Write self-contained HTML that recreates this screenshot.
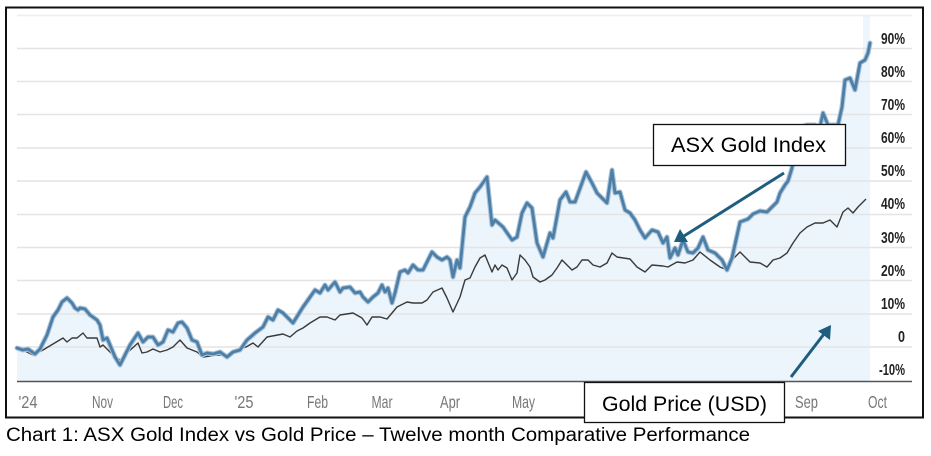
<!DOCTYPE html>
<html><head><meta charset="utf-8">
<style>
html,body{margin:0;padding:0;background:#fff;}
svg{display:block;}
</style></head>
<body>
<svg width="931" height="456" viewBox="0 0 931 456" xmlns="http://www.w3.org/2000/svg">
<rect x="0" y="0" width="931" height="456" fill="#fff"/>
<!-- frame -->
<rect x="6" y="7.5" width="917" height="410" fill="#fff" stroke="#111" stroke-width="2"/>
<!-- highlight band -->
<rect x="863" y="16" width="7" height="365" fill="#eef5fc"/>
<!-- area fill -->
<polygon fill="#ecf4fc" points="17,381 17,348 23,350 28,349 35,354 40,349 47,335 53,317 58,310 62,302 67,298 72,303 75,308 78,310 80,308 85,309 90,315 97,320 100,325 103,340 107,338 110,345 115,357 120,365 125,355 130,345 138,333 143,342 148,337 153,337 158,345 163,342 168,330 173,332 178,323 182,322 187,328 192,340 197,342 202,355 207,353 213,354 220,352 227,357 233,352 240,350 247,340 255,333 263,327 268,317 273,320 278,310 283,313 293,323 298,315 303,307 308,300 315,290 320,293 325,285 328,290 335,282 340,292 343,288 350,287 355,293 360,292 363,297 368,302 373,297 378,293 382,285 385,292 388,288 392,303 395,293 400,272 405,270 408,273 413,265 418,270 423,270 428,260 432,252 437,257 442,260 447,257 450,260 453,277 457,260 460,268 465,217 470,207 475,193 480,187 487,177 492,225 495,220 503,227 512,240 517,237 522,213 527,203 532,208 537,243 543,257 550,233 553,238 560,200 566,192 570,202 575,202 586,172 592,183 597,193 607,203 612,170 615,193 620,192 625,210 630,213 635,220 640,230 645,238 652,230 658,232 663,243 667,237 670,258 675,248 678,255 683,240 688,252 693,253 698,248 703,237 708,250 715,253 722,260 727,270 732,258 740,222 748,219 753,214 760,211 767,212 772,207 777,202 780,193 785,185 788,181 792,168 795,145 800,127 807,125 815,125 820,127 823,113 828,125 833,125 838,125 842,107 845,80 850,78 855,90 860,63 865,60 868,53 870,43 870,381"/>
<!-- gridlines -->
<g stroke="#e4e4e4" stroke-width="1.5">
<line x1="17" y1="15.5" x2="912" y2="15.5" stroke="#eeeeee"/>
<line x1="17" y1="48.5" x2="912" y2="48.5"/>
<line x1="17" y1="81.5" x2="912" y2="81.5"/>
<line x1="17" y1="114.5" x2="912" y2="114.5"/>
<line x1="17" y1="148" x2="912" y2="148"/>
<line x1="17" y1="181" x2="912" y2="181"/>
<line x1="17" y1="214.5" x2="912" y2="214.5"/>
<line x1="17" y1="247.5" x2="912" y2="247.5"/>
<line x1="17" y1="280.5" x2="912" y2="280.5"/>
<line x1="17" y1="314" x2="912" y2="314"/>
<line x1="17" y1="347" x2="912" y2="347"/>
</g>
<line x1="17" y1="381.5" x2="912" y2="381.5" stroke="#555" stroke-width="1.6"/>
<!-- gold price line -->
<polyline fill="none" stroke="#3a3a3a" stroke-width="1.4" stroke-linejoin="round" points="17,348 25,351 33,355 43,350 53,344 63,338 67,342 72,338 77,338 83,333 87,338 97,338 100,347 103,345 108,350 113,355 120,360 127,353 138,343 142,353 147,352 153,349 160,352 167,350 173,347 180,340 187,348 197,352 203,357 217,355 227,355 237,350 246,347 253,343 258,347 267,337 283,334 290,337 297,331 303,328 310,323 320,317 327,317 335,320 340,315 353,313 362,318 367,325 372,317 380,317 387,319 397,307 407,302 413,303 422,303 427,300 433,292 442,288 447,298 453,312 460,297 465,280 470,278 475,267 480,258 485,255 492,272 495,265 498,270 502,265 507,268 512,280 517,273 520,255 525,260 530,267 533,277 540,282 545,280 552,275 557,268 562,260 567,265 572,270 577,267 582,260 588,260 593,265 600,267 607,263 612,253 617,257 630,259 637,267 645,272 652,265 663,266 668,267 677,262 685,263 693,260 700,252 710,260 720,267 727,270 732,260 740,252 745,257 750,262 760,263 767,267 773,260 780,258 787,253 793,243 800,233 807,227 815,223 823,223 830,220 837,227 843,212 848,208 853,213 858,207 866,199"/>
<!-- ASX line -->
<g fill="none" stroke-linejoin="round" stroke-linecap="round">
<polyline stroke="#a8c3da" stroke-width="5" points="17,348 23,350 28,349 35,354 40,349 47,335 53,317 58,310 62,302 67,298 72,303 75,308 78,310 80,308 85,309 90,315 97,320 100,325 103,340 107,338 110,345 115,357 120,365 125,355 130,345 138,333 143,342 148,337 153,337 158,345 163,342 168,330 173,332 178,323 182,322 187,328 192,340 197,342 202,355 207,353 213,354 220,352 227,357 233,352 240,350 247,340 255,333 263,327 268,317 273,320 278,310 283,313 293,323 298,315 303,307 308,300 315,290 320,293 325,285 328,290 335,282 340,292 343,288 350,287 355,293 360,292 363,297 368,302 373,297 378,293 382,285 385,292 388,288 392,303 395,293 400,272 405,270 408,273 413,265 418,270 423,270 428,260 432,252 437,257 442,260 447,257 450,260 453,277 457,260 460,268 465,217 470,207 475,193 480,187 487,177 492,225 495,220 503,227 512,240 517,237 522,213 527,203 532,208 537,243 543,257 550,233 553,238 560,200 566,192 570,202 575,202 586,172 592,183 597,193 607,203 612,170 615,193 620,192 625,210 630,213 635,220 640,230 645,238 652,230 658,232 663,243 667,237 670,258 675,248 678,255 683,240 688,252 693,253 698,248 703,237 708,250 715,253 722,260 727,270 732,258 740,222 748,219 753,214 760,211 767,212 772,207 777,202 780,193 785,185 788,181 792,168 795,145 800,127 807,125 815,125 820,127 823,113 828,125 833,125 838,125 842,107 845,80 850,78 855,90 860,63 865,60 868,53 870,43"/>
<polyline stroke="#4d7ea6" stroke-width="2.8" points="17,348 23,350 28,349 35,354 40,349 47,335 53,317 58,310 62,302 67,298 72,303 75,308 78,310 80,308 85,309 90,315 97,320 100,325 103,340 107,338 110,345 115,357 120,365 125,355 130,345 138,333 143,342 148,337 153,337 158,345 163,342 168,330 173,332 178,323 182,322 187,328 192,340 197,342 202,355 207,353 213,354 220,352 227,357 233,352 240,350 247,340 255,333 263,327 268,317 273,320 278,310 283,313 293,323 298,315 303,307 308,300 315,290 320,293 325,285 328,290 335,282 340,292 343,288 350,287 355,293 360,292 363,297 368,302 373,297 378,293 382,285 385,292 388,288 392,303 395,293 400,272 405,270 408,273 413,265 418,270 423,270 428,260 432,252 437,257 442,260 447,257 450,260 453,277 457,260 460,268 465,217 470,207 475,193 480,187 487,177 492,225 495,220 503,227 512,240 517,237 522,213 527,203 532,208 537,243 543,257 550,233 553,238 560,200 566,192 570,202 575,202 586,172 592,183 597,193 607,203 612,170 615,193 620,192 625,210 630,213 635,220 640,230 645,238 652,230 658,232 663,243 667,237 670,258 675,248 678,255 683,240 688,252 693,253 698,248 703,237 708,250 715,253 722,260 727,270 732,258 740,222 748,219 753,214 760,211 767,212 772,207 777,202 780,193 785,185 788,181 792,168 795,145 800,127 807,125 815,125 820,127 823,113 828,125 833,125 838,125 842,107 845,80 850,78 855,90 860,63 865,60 868,53 870,43"/>
</g>
<!-- y labels -->
<g font-family="Liberation Sans, Arial, sans-serif" font-weight="bold" font-size="15.5" fill="#222" text-anchor="end">
<text x="905" y="44" textLength="24" lengthAdjust="spacingAndGlyphs">90%</text>
<text x="905" y="77" textLength="24" lengthAdjust="spacingAndGlyphs">80%</text>
<text x="905" y="110" textLength="24" lengthAdjust="spacingAndGlyphs">70%</text>
<text x="905" y="143" textLength="24" lengthAdjust="spacingAndGlyphs">60%</text>
<text x="905" y="176" textLength="24" lengthAdjust="spacingAndGlyphs">50%</text>
<text x="905" y="209" textLength="24" lengthAdjust="spacingAndGlyphs">40%</text>
<text x="905" y="243" textLength="24" lengthAdjust="spacingAndGlyphs">30%</text>
<text x="905" y="276" textLength="24" lengthAdjust="spacingAndGlyphs">20%</text>
<text x="905" y="309" textLength="24" lengthAdjust="spacingAndGlyphs">10%</text>
<text x="905" y="342" textLength="7" lengthAdjust="spacingAndGlyphs">0</text>
<text x="905" y="375" textLength="26" lengthAdjust="spacingAndGlyphs">-10%</text>
</g>
<!-- x labels -->
<g font-family="Liberation Sans, Arial, sans-serif" font-size="17.5" fill="#777" text-anchor="middle">
<text x="28" y="408" textLength="19" lengthAdjust="spacingAndGlyphs">'24</text>
<text x="102.5" y="408" textLength="21" lengthAdjust="spacingAndGlyphs">Nov</text>
<text x="173" y="408" textLength="20" lengthAdjust="spacingAndGlyphs">Dec</text>
<text x="244" y="408" textLength="19" lengthAdjust="spacingAndGlyphs">'25</text>
<text x="317.5" y="408" textLength="21" lengthAdjust="spacingAndGlyphs">Feb</text>
<text x="382" y="408" textLength="21" lengthAdjust="spacingAndGlyphs">Mar</text>
<text x="450" y="408" textLength="20" lengthAdjust="spacingAndGlyphs">Apr</text>
<text x="523.5" y="408" textLength="23" lengthAdjust="spacingAndGlyphs">May</text>
<text x="806.5" y="408" textLength="23" lengthAdjust="spacingAndGlyphs">Sep</text>
<text x="877.5" y="408" textLength="19" lengthAdjust="spacingAndGlyphs">Oct</text>
</g>
<!-- annotation boxes -->
<rect x="653.5" y="124.5" width="192" height="41" fill="#fff" stroke="#111" stroke-width="1.3"/>
<text x="671" y="152" font-family="Liberation Sans, Arial, sans-serif" font-size="21" fill="#000" textLength="155" lengthAdjust="spacingAndGlyphs">ASX Gold Index</text>
<rect x="584.5" y="382.5" width="200" height="40" fill="#fff" stroke="#111" stroke-width="1.3"/>
<text x="602" y="411" font-family="Liberation Sans, Arial, sans-serif" font-size="21" fill="#000" textLength="165" lengthAdjust="spacingAndGlyphs">Gold Price (USD)</text>
<!-- arrows -->
<g stroke="#1d5d7e" stroke-width="3" fill="#1d5d7e">
<line x1="784" y1="173" x2="684" y2="236"/>
<polygon stroke="none" points="674,242 680,229 688,242"/>
<line x1="791" y1="377" x2="824" y2="334"/>
<polygon stroke="none" points="831,325 830,340 818,331"/>
</g>
<!-- caption -->
<text x="6" y="441" font-family="Liberation Sans, 'Comic Sans MS', sans-serif" font-size="19" fill="#000" textLength="744" lengthAdjust="spacingAndGlyphs">Chart 1: ASX Gold Index vs Gold Price – Twelve month Comparative Performance</text>
</svg>
</body></html>
